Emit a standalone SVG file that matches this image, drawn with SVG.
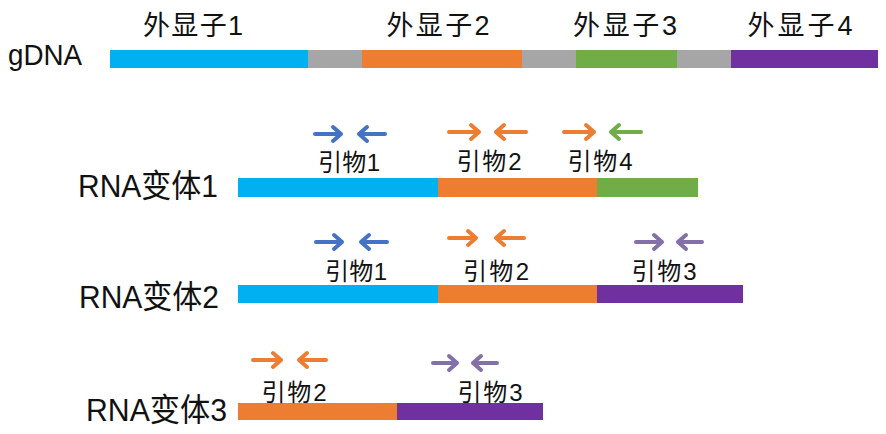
<svg xmlns="http://www.w3.org/2000/svg" width="886" height="434" viewBox="0 0 886 434">
<style>
text{font-family:"Liberation Sans","Noto Sans CJK SC",sans-serif;fill:#111}
.ex{font-size:27px;text-anchor:middle}
.pl{font-size:24px;text-anchor:middle}
.rl{font-size:32px}
.ar{fill:none;stroke-width:4;stroke-linecap:round;stroke-linejoin:round}
.b{stroke:#4472C4}.o{stroke:#ED7D31}.g{stroke:#70AD47}.p{stroke:#8470A8}
</style>
<rect width="886" height="434" fill="#fff"/>
<g id="gdna">
<text x="8" y="65" style="font-size:29px" textLength="74" lengthAdjust="spacingAndGlyphs">gDNA</text>
<rect x="110" y="50" width="198" height="18" fill="#00B0F0"/>
<rect x="308" y="50" width="54" height="18" fill="#A6A6A6"/>
<rect x="362" y="50" width="160" height="18" fill="#ED7D31"/>
<rect x="522" y="50" width="54" height="18" fill="#A6A6A6"/>
<rect x="576" y="50" width="101" height="18" fill="#70AD47"/>
<rect x="677" y="50" width="54" height="18" fill="#A6A6A6"/>
<rect x="731" y="50" width="147" height="18" fill="#7030A0"/>
</g>
<g id="exon-labels">
<text class="ex" x="193" y="35" textLength="100">外显子1</text>
<text class="ex" x="438" y="35" textLength="103">外显子2</text>
<text class="ex" x="625" y="35" textLength="104">外显子3</text>
<text class="ex" x="800" y="35" textLength="105">外显子4</text>
</g>
<g id="rna1">
<text class="rl" x="78" y="197" textLength="140" lengthAdjust="spacingAndGlyphs">RNA变体1</text>
<rect x="238" y="178" width="200" height="19" fill="#00B0F0"/>
<rect x="438" y="178" width="159" height="19" fill="#ED7D31"/>
<rect x="597" y="178" width="101" height="19" fill="#70AD47"/>
</g>
<g id="rna2">
<text class="rl" x="79" y="308" textLength="140" lengthAdjust="spacingAndGlyphs">RNA变体2</text>
<rect x="238" y="285" width="200" height="18" fill="#00B0F0"/>
<rect x="438" y="285" width="159" height="18" fill="#ED7D31"/>
<rect x="597" y="285" width="146" height="18" fill="#7030A0"/>
</g>
<g id="rna3">
<text class="rl" x="86" y="421" textLength="141" lengthAdjust="spacingAndGlyphs">RNA变体3</text>
<rect x="238" y="403" width="159" height="17" fill="#ED7D31"/>
<rect x="397" y="403" width="146" height="17" fill="#7030A0"/>
</g>
<g id="r1-primer1">
<path class="ar b" d="M315 134H341M333 127L341 134L333 141"/>
<path class="ar b" d="M385 134H359M367 127L359 134L367 141"/>
<text class="pl" x="349" y="171" textLength="62">引物1</text>
</g>
<g id="r1-primer2">
<path class="ar o" d="M449 132H479M471 125L479 132L471 139"/>
<path class="ar o" d="M526 132H496M504 125L496 132L504 139"/>
<text class="pl" x="489" y="170" textLength="65">引物2</text>
</g>
<g id="r1-primer4">
<path class="ar o" d="M564 132H594M586 125L594 132L586 139"/>
<path class="ar g" d="M641 132H611M619 125L611 132L619 139"/>
<text class="pl" x="600" y="170" textLength="65">引物4</text>
</g>
<g id="r2-primer1">
<path class="ar b" d="M316 242H342M334 235L342 242L334 249"/>
<path class="ar b" d="M387 242H361M369 235L361 242L369 249"/>
<text class="pl" x="356" y="280" textLength="62">引物1</text>
</g>
<g id="r2-primer2">
<path class="ar o" d="M449 238H476M468 231L476 238L468 245"/>
<path class="ar o" d="M524 238H496M504 231L496 238L504 245"/>
<text class="pl" x="496" y="280" textLength="66">引物2</text>
</g>
<g id="r2-primer3">
<path class="ar p" d="M636 242H662M654 235L662 242L654 249"/>
<path class="ar p" d="M702 242H678M686 235L678 242L686 249"/>
<text class="pl" x="664" y="280" textLength="65">引物3</text>
</g>
<g id="r3-primer2">
<path class="ar o" d="M253 360H281M273 353L281 360L273 367"/>
<path class="ar o" d="M326 360H299M307 353L299 360L307 367"/>
<text class="pl" x="294" y="401" textLength="65">引物2</text>
</g>
<g id="r3-primer3">
<path class="ar p" d="M433 363H457M449 356L457 363L449 370"/>
<path class="ar p" d="M497 363H473M481 356L473 363L481 370"/>
<text class="pl" x="490" y="401" textLength="65">引物3</text>
</g>
</svg>
